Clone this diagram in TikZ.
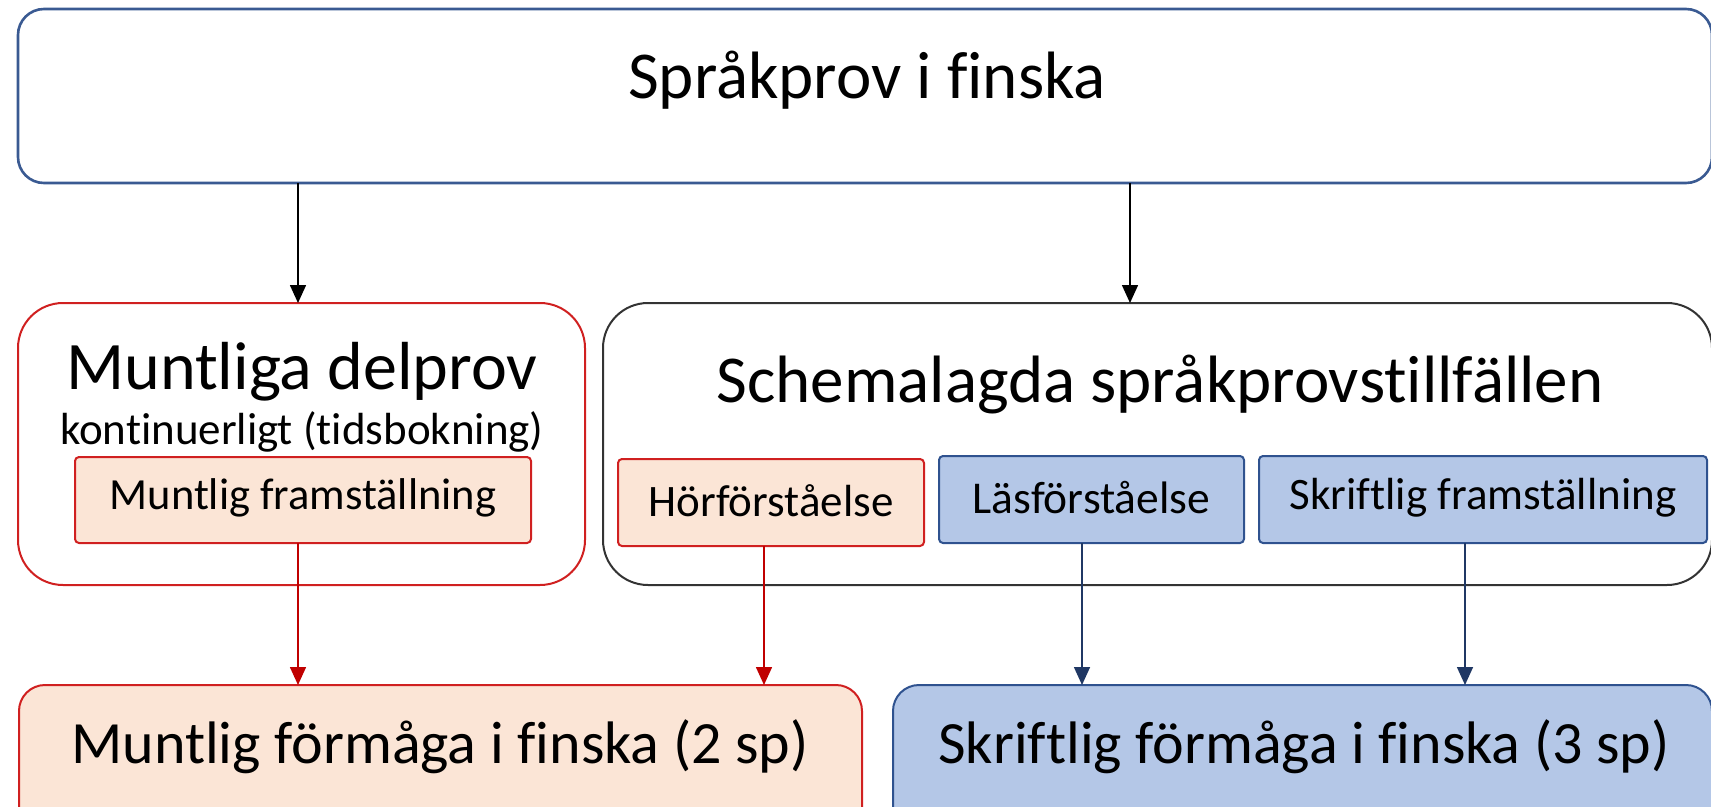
\documentclass[tikz,border=0pt]{standalone}
\usepackage{fontspec}
\setmainfont{Carlito}[Ligatures=NoCommon]
\usetikzlibrary{arrows.meta}
\definecolor{topblue}{HTML}{3A5A92}
\definecolor{navy}{HTML}{203864}
\definecolor{boxblue}{HTML}{2F528F}
\definecolor{redb}{HTML}{C00000}
\definecolor{redl}{HTML}{D02020}
\definecolor{peach}{HTML}{FBE5D6}
\definecolor{lblue}{HTML}{B4C7E7}
\definecolor{dgray}{HTML}{333333}
\tikzset{
  frame/.style={draw, rectangle, inner sep=0pt, outer sep=0pt},
  txt/.style={inner sep=0pt, outer sep=0pt, text=black},
  conn/.style={line width=1.6pt, -{Triangle[width=16pt,length=18pt]}},
}
\begin{document}
\begin{tikzpicture}[x=1pt,y=-1pt]
\useasboundingbox (0,0) rectangle (1711,806);
\clip (0,0) rectangle (1711,806);
% boxes
\node[frame, draw=topblue, line width=2.6pt, rounded corners=26pt, minimum width=1694pt, minimum height=174pt] (top) at (865,96) {};
\node[frame, draw=redl, line width=2pt, rounded corners=45pt, minimum width=567pt, minimum height=282pt] (mun) at (301.5,444) {};
\node[frame, draw=dgray, line width=2pt, rounded corners=45pt, minimum width=1109pt, minimum height=282pt] (sch) at (1157.5,444) {};
\node[frame, draw=redl, fill=peach, line width=2pt, rounded corners=4pt, minimum width=456pt, minimum height=86pt] (mf) at (303,500) {};
\node[frame, draw=redl, fill=peach, line width=2pt, rounded corners=4pt, minimum width=306pt, minimum height=87pt] (hor) at (771,502.5) {};
\node[frame, draw=boxblue, fill=lblue, line width=2pt, rounded corners=4pt, minimum width=305pt, minimum height=87pt] (las) at (1091.5,499.5) {};
\node[frame, draw=boxblue, fill=lblue, line width=2pt, rounded corners=4pt, minimum width=448pt, minimum height=87pt] (skr) at (1483,499.5) {};
\node[frame, draw=redl, fill=peach, line width=2pt, rounded corners=26pt, minimum width=843pt, minimum height=155pt] (bl) at (440.5,762.5) {};
\node[frame, draw=boxblue, fill=lblue, line width=2pt, rounded corners=26pt, minimum width=819pt, minimum height=155pt] (br) at (1302.5,762.5) {};
% texts
\node[txt, font=\fontsize{67}{80}\selectfont] (t1) at (867,80) {Språkprov i finska};
\node[txt, font=\fontsize{68}{80}\selectfont] (t2) at (302,372) {Muntliga delprov};
\node[txt, font=\fontsize{45}{54}\selectfont] (t3) at (302,432) {kontinuerligt (tidsbokning)};
\node[txt, font=\fontsize{67}{80}\selectfont] (t4) at (1160,385) {Schemalagda språkprovstillfällen};
\node[txt, font=\fontsize{44.5}{54}\selectfont] at ([yshift=2pt]mf.center) {Muntlig framställning};
\node[txt, font=\fontsize{45}{54}\selectfont] at ([yshift=2pt]hor.center) {Hörförståelse};
\node[txt, font=\fontsize{45.5}{54}\selectfont] at ([yshift=2pt]las.center) {Läsförståelse};
\node[txt, font=\fontsize{45}{54}\selectfont] at ([yshift=2pt]skr.center) {Skriftlig framställning};
\node[txt, font=\fontsize{60}{72}\selectfont] (t5) at (440,747) {Muntlig förmåga i finska (2 sp)};
\node[txt, font=\fontsize{60}{72}\selectfont] (t6) at (1304,747) {Skriftlig förmåga i finska (3 sp)};
% arrow x positions
\coordinate (a1) at (298,0);
\coordinate (a2) at (1130,0);
\coordinate (a3) at (764,0);
\coordinate (a4) at (1082,0);
\coordinate (a5) at (1465,0);
% connectors
\draw[conn, draw=black, fill=black] (top.south -| a1) -- (mun.north -| a1);
\draw[conn, draw=black, fill=black] (top.south -| a2) -- (sch.north -| a2);
\draw[conn, draw=redb, fill=redb] (mf.south -| a1) -- (bl.north -| a1);
\draw[conn, draw=redb, fill=redb] (hor.south -| a3) -- (bl.north -| a3);
\draw[conn, draw=navy, fill=navy] (las.south -| a4) -- (br.north -| a4);
\draw[conn, draw=navy, fill=navy] (skr.south -| a5) -- (br.north -| a5);
\end{tikzpicture}
\end{document}
